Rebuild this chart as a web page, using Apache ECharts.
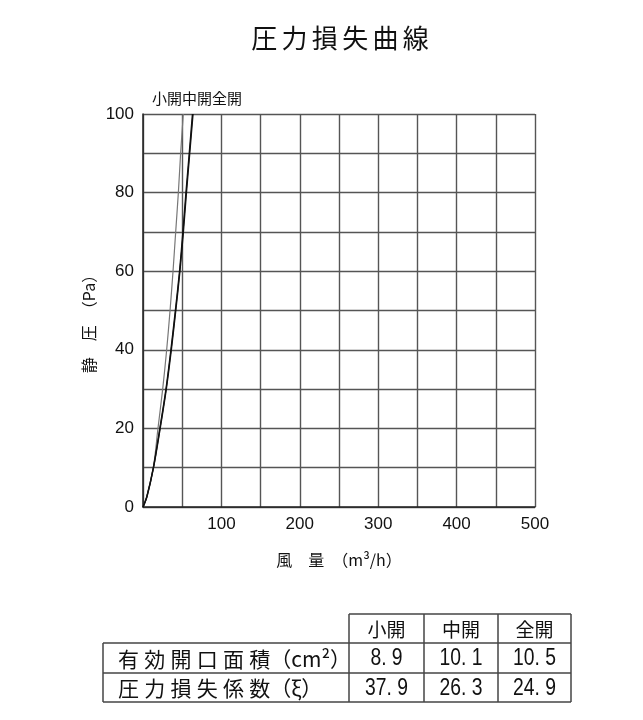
<!DOCTYPE html>
<html><head><meta charset="utf-8">
<script src="https://cdn.jsdelivr.net/npm/echarts@6/dist/echarts.min.js"></script>
<style>html,body{margin:0;padding:0;background:#fff}#c{width:643px;height:720px}</style>
</head><body><div id="c"></div>
<script>
// ---- data ----
const seriesNames = ['小開', '中開', '全開'];
const flowSmall = [0, 4.7, 13.2, 19.1, 25.1, 30.2, 34.5, 38.3, 41.7, 45.1, 48.0, 51.4];
const pressSmall = [0, 2.6, 10, 20, 30, 40, 50, 60, 70, 80, 90, 100];
const flowMid = [0, 4.9, 13.2, 21.5, 29.3, 35.6, 41.3, 46.6, 50.9, 54.8, 59.0, 63.1];
const pressMid = [0, 2.6, 10, 20, 30, 40, 50, 60, 70, 80, 90, 100];
const flowFull = [0, 5.0, 13.4, 21.9, 29.7, 36.1, 41.8, 47.1, 51.5, 55.4, 59.6, 63.8];
const pressFull = [0, 2.6, 10, 20, 30, 40, 50, 60, 70, 80, 90, 100];
const tableRowLabels = ['有効開口面積（cm²）', '圧力損失係数（ξ）'];
const openArea = [8.9, 10.1, 10.5];
const lossCoef = [37.9, 26.3, 24.9];

const CJK = '"Noto Sans CJK JP", sans-serif';
const NUM = '"Liberation Sans", sans-serif';
const sp = (s, c) => s.split('').join(c || '\u2005');

const pairs = (xs, ys) => xs.map((x, i) => [x, ys[i]]);
const fmtVal = v => v.toFixed(1).replace('.', '. ');

// table geometry
const tx = [103, 349, 424, 498, 571];
const ty = [614, 643, 673, 702];
const lineStyle = { stroke: '#444', lineWidth: 1.5 };
const graphics = [];
function line(x1, y1, x2, y2) {
  graphics.push({ type: 'line', shape: { x1, y1, x2, y2 }, style: lineStyle, silent: true });
}
line(tx[1], ty[0], tx[4], ty[0]);
line(tx[0], ty[1], tx[4], ty[1]);
line(tx[0], ty[2], tx[4], ty[2]);
line(tx[0], ty[3], tx[4], ty[3]);
line(tx[0], ty[1], tx[0], ty[3]);
for (let i = 1; i <= 4; i++) line(tx[i], ty[0], tx[i], ty[3]);

function text(x, y, str, font, align, extra) {
  graphics.push(Object.assign({ type: 'text', x, y, silent: true,
    style: { text: str, font, fill: '#111', align: align || 'center', verticalAlign: 'middle' } }, extra || {}));
}
seriesNames.forEach((n, i) => text((tx[i + 1] + tx[i + 2]) / 2, (ty[0] + ty[1]) / 2 + 1, n, '19px ' + CJK));
tableRowLabels.forEach((n, r) => text(118, (ty[r + 1] + ty[r + 2]) / 2 + 1, sp(n.slice(0, 6)) + n.slice(6), '21px ' + CJK, 'left'));
openArea.forEach((v, i) => text((tx[i + 1] + tx[i + 2]) / 2, (ty[1] + ty[2]) / 2 + 1, fmtVal(v), '23px ' + NUM, 'center', { scaleX: 0.84 }));
lossCoef.forEach((v, i) => text((tx[i + 1] + tx[i + 2]) / 2, (ty[2] + ty[3]) / 2 + 1, fmtVal(v), '23px ' + NUM, 'center', { scaleX: 0.84 }));

// title
text(340, 38, sp('圧力損失曲線', '\u2006'), '26px ' + CJK, 'center');
// legend-like text above plot
text(152, 98, seriesNames.join(''), '15px ' + CJK, 'left');
// y axis name
text(89, 320, '静　圧　（Pa）', '16px ' + CJK, 'center', { rotation: Math.PI / 2 });

const chart = echarts.init(document.getElementById('c'), null, { renderer: 'canvas' });
chart.setOption({
  animation: false,
  backgroundColor: '#fff',
  grid: { left: 143, top: 114, width: 392, height: 393, containLabel: false },
  xAxis: {
    type: 'value', min: 0, max: 500, interval: 50,
    name: '風　量　（m³/h）', nameLocation: 'middle', nameGap: 45,
    nameTextStyle: { fontFamily: CJK, fontSize: 16, color: '#111' },
    axisLine: { show: true, lineStyle: { color: '#222', width: 1.5 } },
    axisTick: { show: false },
    axisLabel: { margin: 9, fontFamily: NUM, fontSize: 17, color: '#111',
      formatter: v => (v > 0 && v % 100 === 0) ? String(v) : '' },
    splitLine: { show: true, lineStyle: { color: '#555', width: 1.4 } }
  },
  yAxis: {
    type: 'value', min: 0, max: 100, interval: 10,
    axisLine: { show: true, lineStyle: { color: '#222', width: 1.5 } },
    axisTick: { show: false },
    axisLabel: { margin: 9, fontFamily: NUM, fontSize: 17, color: '#111',
      formatter: v => (v % 20 === 0) ? String(v) : '' },
    splitLine: { show: true, lineStyle: { color: '#555', width: 1.4 } }
  },
  series: [
    { name: seriesNames[0], type: 'line', data: pairs(flowSmall, pressSmall), smooth: 0.3, symbol: 'none',
      lineStyle: { color: '#777', width: 1.2 } },
    { name: seriesNames[1], type: 'line', data: pairs(flowMid, pressMid), smooth: 0.3, symbol: 'none',
      lineStyle: { color: '#111', width: 1.4 } },
    { name: seriesNames[2], type: 'line', data: pairs(flowFull, pressFull), smooth: 0.3, symbol: 'none',
      lineStyle: { color: '#111', width: 1.4 } }
  ],
  graphic: graphics
});
</script></body></html>
